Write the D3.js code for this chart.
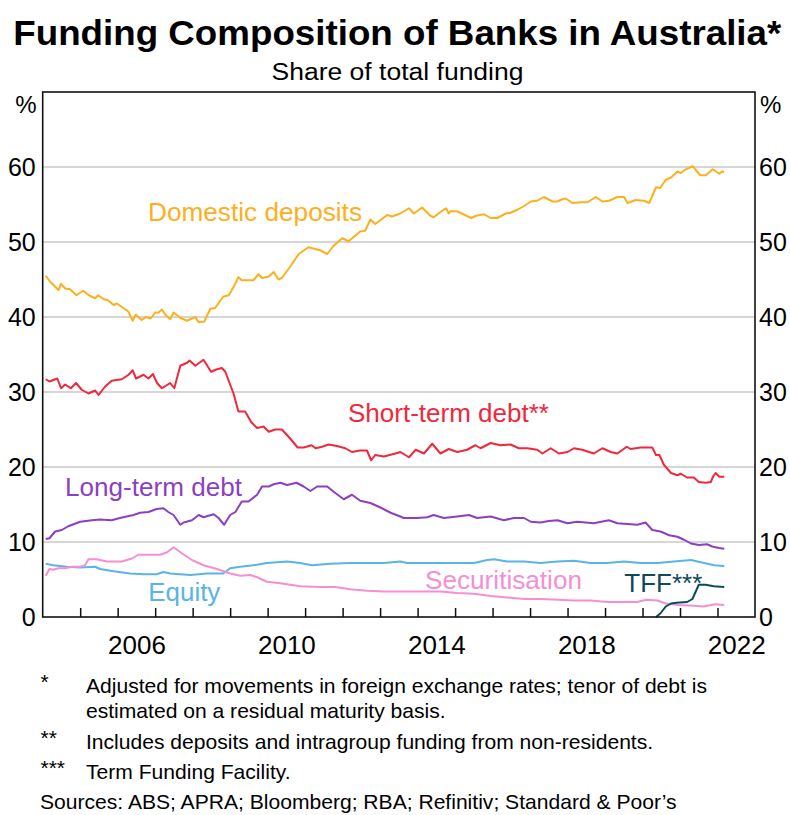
<!DOCTYPE html>
<html><head><meta charset="utf-8">
<script src="https://cdn.jsdelivr.net/npm/d3@7"></script>
<style>
body{margin:0;background:#fff}
svg{display:block}
text{font-family:"Liberation Sans",Arial,Helvetica,sans-serif}
</style>
</head><body>
<svg id="chart" width="790" height="815"></svg>
<script>
// ---- Data (decimal year, % of total funding) ----
const domesticDeposits = [[2004.08,45.5],[2004.2,44.7],[2004.42,43.6],[2004.49,44.4],[2004.6,43.8],[2004.73,43.7],[2004.9,42.9],[2005.08,43.5],[2005.26,42.8],[2005.4,42.5],[2005.48,42.9],[2005.62,42.4],[2005.75,42.2],[2005.89,41.6],[2005.98,41.8],[2006.15,41.2],[2006.29,40.7],[2006.4,39.5],[2006.48,40.3],[2006.64,39.6],[2006.75,40.0],[2006.88,39.8],[2007.0,40.6],[2007.09,40.6],[2007.18,41.0],[2007.27,40.3],[2007.4,39.7],[2007.49,40.6],[2007.67,39.9],[2007.85,39.5],[2008.07,40.0],[2008.16,39.3],[2008.31,39.4],[2008.47,41.1],[2008.6,41.2],[2008.81,42.7],[2008.96,42.9],[2009.09,44.0],[2009.22,45.3],[2009.31,44.9],[2009.62,44.9],[2009.76,45.7],[2009.85,45.2],[2010.03,45.4],[2010.16,46.0],[2010.29,45.0],[2010.38,45.2],[2010.6,46.7],[2010.83,48.4],[2011.09,49.3],[2011.4,48.9],[2011.59,48.4],[2011.76,49.5],[2011.99,50.5],[2012.16,50.1],[2012.47,51.4],[2012.6,51.5],[2012.74,53.0],[2012.87,52.4],[2013.19,53.6],[2013.32,53.4],[2013.54,53.8],[2013.77,54.5],[2013.9,53.8],[2014.12,54.6],[2014.34,53.5],[2014.43,53.3],[2014.61,54.0],[2014.76,54.5],[2014.83,53.8],[2014.87,54.1],[2015.05,54.1],[2015.26,53.6],[2015.43,53.2],[2015.56,53.5],[2015.77,53.7],[2015.95,53.2],[2016.13,53.2],[2016.35,53.8],[2016.48,53.9],[2016.66,54.3],[2016.84,54.8],[2017.02,55.4],[2017.19,55.5],[2017.37,56.0],[2017.6,55.4],[2017.73,55.4],[2017.86,55.7],[2017.95,55.8],[2018.13,55.2],[2018.35,55.3],[2018.53,55.3],[2018.75,56.0],[2018.93,55.4],[2019.11,55.5],[2019.33,56.0],[2019.51,56.0],[2019.6,55.2],[2019.82,55.6],[2020.04,55.5],[2020.18,55.2],[2020.36,57.3],[2020.47,57.2],[2020.62,58.3],[2020.76,58.6],[2020.93,59.4],[2021.02,59.2],[2021.16,59.7],[2021.34,60.1],[2021.42,59.6],[2021.54,58.9],[2021.69,58.9],[2021.87,59.7],[2022.05,59.1],[2022.12,59.4],[2022.18,59.3]];

const shortTermDebt = [[2004.08,31.7],[2004.18,31.4],[2004.28,31.6],[2004.39,31.8],[2004.49,30.5],[2004.6,31.0],[2004.75,30.5],[2004.89,31.2],[2005.04,30.3],[2005.22,29.8],[2005.4,30.2],[2005.49,29.6],[2005.66,30.7],[2005.84,31.5],[2006.11,31.7],[2006.29,32.3],[2006.4,32.9],[2006.49,31.8],[2006.69,32.3],[2006.82,31.8],[2006.94,32.4],[2007.05,31.2],[2007.18,30.5],[2007.4,31.2],[2007.51,30.5],[2007.67,33.5],[2007.85,33.9],[2007.92,34.2],[2008.07,33.5],[2008.29,34.3],[2008.49,32.7],[2008.63,33.0],[2008.78,33.2],[2008.87,32.7],[2009.09,29.8],[2009.22,27.4],[2009.4,27.4],[2009.56,26.0],[2009.72,25.2],[2009.89,25.4],[2010.03,24.7],[2010.2,25.0],[2010.38,25.0],[2010.6,23.8],[2010.8,22.6],[2010.96,22.6],[2011.17,22.9],[2011.28,22.5],[2011.45,22.7],[2011.63,23.0],[2011.85,22.8],[2012.07,22.5],[2012.25,22.0],[2012.47,22.2],[2012.65,22.2],[2012.76,20.9],[2012.87,21.6],[2013.1,21.4],[2013.41,21.8],[2013.54,22.0],[2013.77,21.3],[2013.95,22.3],[2014.17,21.8],[2014.39,23.1],[2014.61,21.8],[2014.83,22.4],[2015.06,22.0],[2015.32,22.3],[2015.54,22.9],[2015.68,22.5],[2015.95,23.2],[2016.21,22.9],[2016.48,23.0],[2016.7,22.5],[2016.93,22.5],[2017.19,22.3],[2017.33,21.8],[2017.55,22.5],[2017.77,21.8],[2018.0,22.0],[2018.17,22.5],[2018.39,22.3],[2018.7,21.8],[2018.93,22.5],[2019.15,22.0],[2019.33,21.8],[2019.58,22.7],[2019.68,22.4],[2019.95,22.6],[2020.26,22.6],[2020.36,21.6],[2020.45,21.6],[2020.57,20.3],[2020.76,19.2],[2020.93,18.9],[2021.02,19.1],[2021.19,18.6],[2021.37,18.6],[2021.5,18.0],[2021.68,17.9],[2021.82,18.0],[2021.89,18.8],[2021.95,19.2],[2022.05,18.7],[2022.18,18.7]];

const longTermDebt = [[2004.08,10.4],[2004.18,10.5],[2004.33,11.4],[2004.51,11.6],[2004.68,12.1],[2005.0,12.7],[2005.31,12.9],[2005.53,13.0],[2005.84,12.9],[2006.06,13.2],[2006.42,13.6],[2006.6,13.9],[2006.82,14.0],[2007.04,14.4],[2007.22,14.5],[2007.35,14.0],[2007.49,13.6],[2007.67,12.3],[2007.76,12.6],[2007.98,12.9],[2008.16,13.6],[2008.29,13.3],[2008.56,13.7],[2008.69,13.2],[2008.84,12.3],[2009.0,13.6],[2009.14,14.0],[2009.31,15.4],[2009.49,15.4],[2009.72,16.3],[2009.85,17.4],[2010.03,17.4],[2010.16,17.7],[2010.34,17.9],[2010.52,17.6],[2010.77,17.9],[2010.96,17.4],[2011.14,16.8],[2011.32,17.4],[2011.59,17.4],[2011.76,16.7],[2012.03,15.7],[2012.25,16.3],[2012.47,15.5],[2012.74,15.2],[2013.01,14.6],[2013.28,13.9],[2013.54,13.4],[2013.63,13.2],[2013.99,13.2],[2014.26,13.3],[2014.43,13.6],[2014.7,13.2],[2015.06,13.4],[2015.37,13.6],[2015.59,13.2],[2015.95,13.4],[2016.3,12.9],[2016.57,13.2],[2016.84,13.2],[2017.02,12.7],[2017.28,12.6],[2017.5,12.8],[2017.73,12.9],[2018.0,12.5],[2018.26,12.7],[2018.48,12.6],[2018.7,12.5],[2019.1,12.9],[2019.33,12.5],[2019.6,12.4],[2019.86,12.3],[2020.08,12.6],[2020.26,11.6],[2020.48,11.4],[2020.71,10.9],[2020.93,10.7],[2021.11,10.3],[2021.29,9.8],[2021.5,9.6],[2021.72,9.7],[2021.86,9.4],[2022.04,9.2],[2022.18,9.1]];

const equity = [[2004.08,7.1],[2004.28,6.9],[2004.64,6.7],[2005.0,6.6],[2005.4,6.7],[2005.53,6.4],[2005.89,6.1],[2006.33,5.8],[2006.69,5.7],[2007.04,5.7],[2007.22,6.0],[2007.4,5.8],[2007.67,5.7],[2007.94,5.6],[2008.38,5.8],[2008.82,5.8],[2009.0,6.5],[2009.27,6.7],[2009.62,6.9],[2009.98,7.2],[2010.52,7.4],[2010.87,7.2],[2011.18,6.9],[2011.67,7.1],[2012.2,7.2],[2012.65,7.2],[2013.1,7.2],[2013.54,7.4],[2013.72,7.2],[2014.17,7.2],[2014.61,7.2],[2015.06,7.2],[2015.5,7.2],[2015.86,7.6],[2016.04,7.7],[2016.39,7.4],[2016.84,7.4],[2017.28,7.2],[2017.73,7.4],[2018.17,7.5],[2018.61,7.2],[2019.06,7.2],[2019.5,7.4],[2019.95,7.2],[2020.4,7.2],[2020.84,7.4],[2021.29,7.6],[2021.64,7.2],[2021.91,6.9],[2022.18,6.8]];

const securitisation = [[2004.08,5.5],[2004.18,6.4],[2004.28,6.3],[2004.42,6.5],[2004.6,6.5],[2004.77,6.7],[2005.0,6.7],[2005.13,6.9],[2005.22,7.7],[2005.44,7.7],[2005.71,7.4],[2006.11,7.4],[2006.38,7.8],[2006.55,8.3],[2006.87,8.3],[2007.13,8.3],[2007.31,8.6],[2007.49,9.3],[2007.71,8.5],[2007.98,7.6],[2008.29,6.9],[2008.65,6.4],[2009.0,5.8],[2009.27,5.5],[2009.54,5.6],[2009.72,5.3],[2009.98,4.7],[2010.34,4.5],[2010.87,4.1],[2011.4,4.0],[2011.8,4.0],[2012.2,3.7],[2012.65,3.5],[2013.1,3.4],[2013.72,3.4],[2014.61,3.4],[2015.06,3.2],[2015.5,3.1],[2015.95,2.8],[2016.39,2.6],[2016.84,2.4],[2017.28,2.4],[2017.73,2.3],[2018.17,2.2],[2018.61,2.2],[2019.06,2.0],[2019.5,2.0],[2019.85,2.0],[2020.1,2.3],[2020.4,2.2],[2020.62,1.8],[2020.97,1.6],[2021.37,1.5],[2021.64,1.4],[2021.82,1.6],[2021.95,1.7],[2022.18,1.6]];

const tff = [[2020.36,0],[2020.48,0.5],[2020.62,1.4],[2020.76,1.8],[2020.9,1.9],[2021.19,2.0],[2021.33,2.4],[2021.42,3.4],[2021.5,4.3],[2021.68,4.3],[2021.9,4.1],[2022.18,4.0]];

const yTicks = [0,10,20,30,40,50,60];
const yearTicks = d3.range(2005,2023);
const yearLabels = [2006,2010,2014,2018,2022];

const seriesList = [
  {name:"Equity", data:equity, color:"#5ab4e6"},
  {name:"Securitisation", data:securitisation, color:"#f58fd2"},
  {name:"TFF***", data:tff, color:"#0d4a5a"},
  {name:"Long-term debt", data:longTermDebt, color:"#8c3fc2"},
  {name:"Short-term debt**", data:shortTermDebt, color:"#f0283c"},
  {name:"Domestic deposits", data:domesticDeposits, color:"#fdb01d"}
];

const footnotes = [
  {mark:"*", lines:["Adjusted for movements in foreign exchange rates; tenor of debt is","estimated on a residual maturity basis."]},
  {mark:"**", lines:["Includes deposits and intragroup funding from non-residents."]},
  {mark:"***", lines:["Term Funding Facility."]}
];
const sourcesText = "Sources: ABS; APRA; Bloomberg; RBA; Refinitiv; Standard & Poor\u2019s";

// ---- Layout ----
const L = 42.7, R = 755, T = 92, B = 617;
const svg = d3.select("#chart");
const x = d3.scaleLinear().domain([2004,2023]).range([L,R]);
const y = d3.scaleLinear().domain([0,70]).range([B,T]);

function fit(sel, w){
  sel.attr("textLength", w).attr("lengthAdjust","spacingAndGlyphs");
  return sel;
}

// Title
fit(svg.append("text").attr("x",13.3).attr("y",45.3)
  .attr("font-size",34.5).attr("font-weight","bold").attr("fill","#000")
  .text("Funding Composition of Banks in Australia*"), 768);
fit(svg.append("text").attr("x",397.5).attr("y",79.5).attr("text-anchor","middle")
  .attr("font-size",23).attr("fill","#000").text("Share of total funding"), 252);

// Gridlines
svg.append("g").selectAll("line").data(yTicks.filter(d=>d>0)).join("line")
  .attr("x1",L).attr("x2",R).attr("y1",d=>y(d)).attr("y2",d=>y(d))
  .attr("stroke","#c8c8c8").attr("stroke-width",1.5);

// Axes labels
const yl = svg.append("g").attr("transform",`translate(${L},0)`)
  .call(d3.axisLeft(y).tickValues(yTicks).tickSize(0).tickPadding(7));
const yr = svg.append("g").attr("transform",`translate(${R},0)`)
  .call(d3.axisRight(y).tickValues(yTicks).tickSize(0).tickPadding(4));
[yl,yr].forEach(g=>{
  g.select(".domain").remove();
  g.selectAll("text").attr("font-size",25).attr("fill","#000").attr("font-family",null);
});
svg.append("text").attr("x",36.5).attr("y",113).attr("text-anchor","end").attr("font-size",24).text("%");
svg.append("text").attr("x",760).attr("y",113).attr("font-size",24).text("%");

// x tick marks (inward)
const xt = svg.append("g").attr("transform",`translate(0,${B})`)
  .call(d3.axisBottom(x).tickValues(yearTicks).tickSize(-9).tickFormat(""));
xt.select(".domain").remove();
xt.selectAll("line").attr("stroke","#111").attr("stroke-width",1.5);

const xl = svg.append("g").attr("transform",`translate(0,${B})`)
  .call(d3.axisBottom(x).tickValues(yearLabels.map(d=>d+0.5)).tickSize(0).tickPadding(19)
    .tickFormat(d=>String(Math.floor(d))));
xl.select(".domain").remove();
xl.selectAll("text").attr("font-size",26).attr("fill","#000").attr("font-family",null);

// Lines
const line = d3.line().x(d=>x(d[0])).y(d=>y(d[1]));
svg.append("g").selectAll("path").data(seriesList).join("path")
  .attr("d",d=>line(d.data)).attr("fill","none")
  .attr("stroke",d=>d.color).attr("stroke-width",2).attr("stroke-linejoin","round");

// Frame
svg.append("rect").attr("x",L).attr("y",T).attr("width",R-L).attr("height",B-T)
  .attr("fill","none").attr("stroke","#111").attr("stroke-width",1.6);

// Series labels
const labels = [
  {text:"Domestic deposits", x:148, y:220.7, w:214, color:"#fdb01d"},
  {text:"Short-term debt**", x:348, y:421.7, w:201, color:"#f0283c"},
  {text:"Long-term debt", x:65, y:496, w:177, color:"#8c3fc2"},
  {text:"Equity", x:148.3, y:601, w:72, color:"#5ab4e6"},
  {text:"Securitisation", x:425, y:588.5, w:157, color:"#f58fd2"},
  {text:"TFF***", x:624.3, y:591.7, w:78, color:"#0d4a5a"}
];
labels.forEach(l=>{
  fit(svg.append("text").attr("x",l.x).attr("y",l.y).attr("font-size",25)
    .attr("fill",l.color).text(l.text), l.w);
});

// Footnotes
const fnSize = 21;
const fnBase = [[693.3,718.3],[749.3],[779]];
footnotes.forEach((f,i)=>{
  svg.append("text").attr("x",40.5).attr("y",fnBase[i][0]-4).attr("font-size",fnSize).attr("fill","#000").text(f.mark);
  f.lines.forEach((t,j)=>{
    svg.append("text").attr("class","fn").attr("x",86).attr("y",fnBase[i][j]).attr("font-size",fnSize).attr("fill","#000").text(t);
  });
});
svg.append("text").attr("class","fn").attr("x",40).attr("y",809.3).attr("font-size",fnSize).attr("fill","#000").text(sourcesText);
// horizontal scale to match first footnote width (86 -> 707)
const first = svg.select("text.fn").node();
const sx = 621 / first.getComputedTextLength();
svg.selectAll("text.fn").each(function(){
  const s = d3.select(this);
  const w = this.getComputedTextLength();
  fit(s, w*sx);
});
</script>
</body></html>
